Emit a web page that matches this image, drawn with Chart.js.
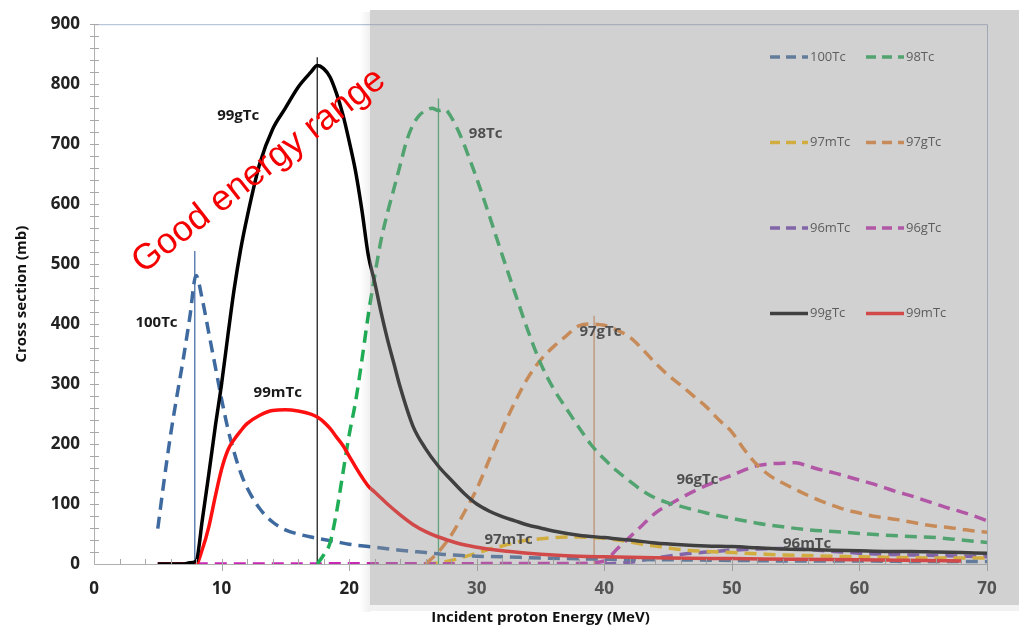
<!DOCTYPE html>
<html>
<head>
<meta charset="utf-8">
<script src="https://cdn.jsdelivr.net/npm/chart.js@4.4.0/dist/chart.umd.min.js"></script>
<style>
html, body { margin: 0; padding: 0; background: #fff; }
#wrap { width: 1019px; height: 629px; position: relative; }
</style>
</head>
<body>
<div id="wrap"><canvas id="myChart"></canvas></div>
<script>
// incident energy (MeV) / cross section (mb)
const e100 = [5, 5.5, 6, 6.5, 7, 7.5, 8, 8.5, 9, 9.5, 10, 10.5, 11, 11.5, 12, 13, 14, 15, 16, 17, 18, 19, 20, 22, 24, 26, 28, 30, 32, 35, 40, 45, 50, 55, 60, 65, 70];
const cs100 = [59, 140, 215, 280, 342, 410, 481, 440, 385, 330, 275, 225, 185, 152, 127, 92, 70, 57, 50, 45, 41, 37, 33, 28, 23, 19, 15, 13, 12, 10, 8, 7, 6, 5, 5, 4, 4];

const e99g = [5, 7, 7.5, 8, 8.5, 9, 9.5, 10, 10.5, 11, 11.5, 12, 13, 14, 15, 16, 17, 17.5, 18, 18.5, 19, 19.5, 20, 20.5, 21, 21.5, 22, 22.5, 23, 23.5, 24, 25, 26, 27, 28, 29, 30, 31, 32, 33, 34, 35, 36, 38, 40, 42, 44, 46, 48, 50, 52, 54, 56, 58, 60, 62, 64, 66, 68, 70];
const cs99g = [0, 0, 2, 5, 75, 150, 228, 300, 382, 460, 525, 578, 668, 725, 760, 795, 820, 831, 826, 812, 785, 750, 705, 655, 590, 515, 470, 420, 375, 335, 295, 230, 192, 163, 140, 118, 100, 88, 79, 72, 65, 60, 55, 48, 44, 40, 35, 32, 30, 29, 27, 25, 24, 23, 22, 21, 21, 20, 19, 18];

const e99m = [5, 8, 8.5, 9, 9.5, 10, 10.5, 11, 11.5, 12, 13, 14, 15, 16, 17, 17.5, 18, 18.5, 19, 19.5, 20, 20.5, 21, 21.5, 22, 22.5, 23, 24, 25, 26, 27, 28, 29, 30, 32, 34, 36, 38, 40, 45, 50, 55, 60, 65, 68];
const cs99m = [0, 0, 25, 62, 112, 158, 190, 208, 222, 234, 248, 256, 257, 255, 250, 245, 237, 226, 212, 198, 180, 162, 145, 130, 120, 110, 100, 82, 66, 54, 45, 38, 32, 28, 22, 18, 15, 13, 12, 10, 9, 8, 7, 6, 5];

const e98 = [17.5, 18, 18.5, 19, 19.5, 20, 20.5, 21, 21.5, 22, 22.5, 23, 23.5, 24, 24.5, 25, 25.5, 26, 26.5, 27, 27.5, 28, 28.5, 29, 29.5, 30, 31, 32, 33, 34, 35, 36, 37, 38, 39, 40, 41, 42, 43, 44, 45, 46, 48, 50, 52, 54, 56, 58, 60, 62, 64, 66, 68, 70];
const cs98 = [0, 15, 35, 85, 150, 215, 270, 340, 415, 480, 540, 585, 625, 665, 705, 732, 748, 756, 760, 756, 758, 745, 725, 700, 672, 643, 580, 515, 452, 390, 335, 293, 260, 228, 198, 175, 155, 138, 122, 110, 102, 96, 85, 76, 68, 62, 57, 54, 51, 48, 46, 44, 40, 36];

const e97m = [26, 27, 28, 29, 30, 31, 32, 33, 34, 35, 36, 37, 38, 39, 40, 41, 42, 43, 44, 45, 46, 48, 50, 52, 54, 56, 58, 60, 63, 66, 70];
const cs97m = [0, 2, 6, 12, 18, 25, 30, 36, 40, 42, 44, 45, 45, 44, 43, 40, 37, 33, 30, 27, 24, 21, 19, 17, 15, 14, 13, 12, 11, 10, 10];

const e97g = [26, 27, 28, 29, 30, 31, 32, 33, 34, 35, 36, 37, 38, 39, 40, 41, 42, 43, 44, 45, 46, 47, 48, 49, 50, 51, 52, 53, 54, 55, 56, 57, 58, 59, 60, 61, 62, 63, 64, 65, 66, 67, 68, 69, 70];
const cs97g = [0, 20, 48, 85, 125, 175, 225, 270, 310, 340, 362, 380, 397, 400, 398, 390, 378, 358, 335, 315, 298, 280, 262, 240, 220, 190, 165, 147, 135, 124, 114, 105, 97, 90, 85, 80, 77, 74, 70, 66, 63, 61, 58, 55, 53];

const e96m = [40, 42, 44, 46, 48, 50, 52, 54, 56, 58, 60, 62, 64, 66, 68, 70];
const cs96m = [0, 3, 10, 16, 20, 23, 25, 26, 24, 21, 18, 16, 15, 14, 13, 12];

const e96g = [5, 38, 40, 41, 42, 43, 44, 45, 46, 47, 48, 49, 50, 51, 52, 53, 54, 55, 56, 57, 58, 59, 60, 61, 62, 63, 64, 65, 66, 67, 68, 69, 70];
const cs96g = [0, 1, 5, 25, 45, 65, 85, 98, 110, 121, 131, 140, 148, 157, 164, 167, 168, 169, 163, 157, 152, 146, 140, 134, 127, 120, 114, 107, 100, 93, 87, 80, 72];

// vertical peak markers
const markerE = [7.9, 17.5, 27.0, 39.2];
const markerTop = [522, 845, 776, 414];
const markerColors = ['#4a70a8', '#222222', '#3cae6a', '#e0915a'];

// text next to the curves
const curveLabels = ['100Tc', '99gTc', '99mTc', '98Tc', '97gTc', '96gTc', '97mTc', '96mTc'];
const labelE = [4.9, 11.3, 14.4, 30.7, 39.7, 47.3, 32.5, 55.9];
const labelCs = [402, 747, 285, 717, 387, 140, 40, 33];

const legendOrder = ['100Tc', '98Tc', '97mTc', '97gTc', '96mTc', '96gTc', '99gTc', '99mTc'];

const pts = (xs, ys) => xs.map((v, i) => ({ x: v, y: ys[i] }));
const DASH = [12, 7];

function series(label, xs, ys, color, dashed) {
    return {
        label: label,
        data: pts(xs, ys),
        borderColor: color,
        borderWidth: 3.5,
        borderDash: dashed ? DASH : [],
        pointRadius: 0,
        cubicInterpolationMode: 'monotone',
        fill: false
    };
}

const datasets = [
    series('99gTc', e99g, cs99g, '#000000', false),
    series('99mTc', e99m, cs99m, '#ff1010', false),
    series('98Tc', e98, cs98, '#1fae55', true),
    series('100Tc', e100, cs100, '#3f6aa0', true),
    series('97gTc', e97g, cs97g, '#ed852e', true),
    series('96gTc', e96g, cs96g, '#c828b4', true),
    series('97mTc', e97m, cs97m, '#ffc000', true),
    series('96mTc', e96m, cs96m, '#7440b8', true)
];
markerE.forEach((v, i) => {
    datasets.push({
        label: 'marker' + i,
        data: [{ x: v, y: 0 }, { x: v, y: markerTop[i] }],
        borderColor: markerColors[i],
        borderWidth: 1.3,
        pointRadius: 0
    });
});

const decor = {
    id: 'decor',
    afterDraw(chart) {
        const { ctx, chartArea: a, scales: { x, y } } = chart;
        ctx.save();
        // plot frame top / right
        ctx.strokeStyle = '#a9b8cf';
        ctx.lineWidth = 1;
        ctx.beginPath();
        ctx.moveTo(a.left, a.top + 0.5);
        ctx.lineTo(a.right + 0.5, a.top + 0.5);
        ctx.lineTo(a.right + 0.5, a.bottom);
        ctx.stroke();
        // minor ticks
        ctx.strokeStyle = '#a8a8a8';
        ctx.beginPath();
        for (let v = 20; v <= 900; v += 20) {
            const py = Math.round(y.getPixelForValue(v)) + 0.5;
            ctx.moveTo(a.left - 4, py);
            ctx.lineTo(a.left + 5, py);
        }
        for (let v = 2; v <= 70; v += 2) {
            const px = Math.round(x.getPixelForValue(v)) + 0.5;
            ctx.moveTo(px, a.bottom - 5);
            ctx.lineTo(px, a.bottom + (v % 10 ? 0 : 7));
        }
        ctx.stroke();
        // curve labels
        ctx.font = 'bold 15px "Open Sans"';
        ctx.fillStyle = '#1a1a1a';
        ctx.textAlign = 'center';
        ctx.textBaseline = 'middle';
        curveLabels.forEach((t, i) => {
            ctx.fillText(t, x.getPixelForValue(labelE[i]), y.getPixelForValue(labelCs[i]));
        });
        // legend, two columns
        ctx.font = '13px "Open Sans"';
        ctx.textAlign = 'left';
        ctx.fillStyle = '#333';
        legendOrder.forEach((name, i) => {
            const ds = chart.data.datasets.find(d => d.label === name);
            const col = i % 2, row = Math.floor(i / 2);
            const lx = 770 + col * 96, ly = 57 + row * 85.5;
            ctx.strokeStyle = ds.borderColor;
            ctx.lineWidth = 3.5;
            ctx.setLineDash(ds.borderDash.length ? [10, 6] : []);
            ctx.beginPath();
            ctx.moveTo(lx, ly);
            ctx.lineTo(lx + 38, ly);
            ctx.stroke();
            ctx.fillText(name, lx + 40, ly);
        });
        ctx.setLineDash([]);
        // grey panel laid over the right part
        const g = ctx.createLinearGradient(360, 0, 370, 0);
        g.addColorStop(0, 'rgba(0,0,0,0)');
        g.addColorStop(1, 'rgba(0,0,0,0.06)');
        ctx.fillStyle = g;
        ctx.fillRect(360, 12, 10, 600);
        ctx.fillStyle = 'rgba(149,149,149,0.43)';
        ctx.fillRect(370, 10, 649, 595);
        ctx.fillStyle = 'rgba(0,0,0,0.05)';
        ctx.fillRect(370, 605, 649, 6);
        // red note
        ctx.translate(259, 171);
        ctx.rotate(-38 * Math.PI / 180);
        ctx.font = '36px "Liberation Sans", Arial';
        ctx.fillStyle = '#f40000';
        ctx.textAlign = 'center';
        ctx.textBaseline = 'middle';
        ctx.fillText('Good energy range', 0, 0);
        ctx.restore();
    }
};

Chart.defaults.font.family = '"Open Sans", sans-serif';

new Chart(document.getElementById('myChart').getContext('2d'), {
    type: 'line',
    data: { datasets: datasets },
    options: {
        responsive: true,
        maintainAspectRatio: false,
        animation: false,
        layout: { padding: { top: 18, right: 32, bottom: 0, left: 0 } },
        plugins: {
            legend: { display: false },
            tooltip: { enabled: false }
        },
        scales: {
            x: {
                type: 'linear',
                min: 0,
                max: 70,
                ticks: { stepSize: 10, padding: 15, color: '#222', font: { size: 17, weight: 'bold' } },
                grid: { display: false, drawTicks: false },
                border: { display: true, color: '#b0b0b0', width: 1 },
                title: {
                    display: true,
                    text: 'Incident proton Energy (MeV)',
                    color: '#111',
                    font: { size: 15, weight: 'bold' },
                    padding: { top: 0, bottom: 2 }
                },
                afterFit(s) { s.height = 65; }
            },
            y: {
                min: 0,
                max: 900,
                ticks: { stepSize: 100, padding: 14, color: '#222', font: { size: 17, weight: 'bold' } },
                grid: { display: false, drawTicks: false },
                border: { display: true, color: '#b0b0b0', width: 1 },
                title: {
                    display: true,
                    text: 'Cross section (mb)',
                    color: '#111',
                    font: { size: 15, weight: 'bold' },
                    padding: { top: 13, bottom: 0 }
                },
                afterFit(s) { s.width = 94; }
            }
        }
    },
    plugins: [decor]
});
</script>
</body>
</html>
